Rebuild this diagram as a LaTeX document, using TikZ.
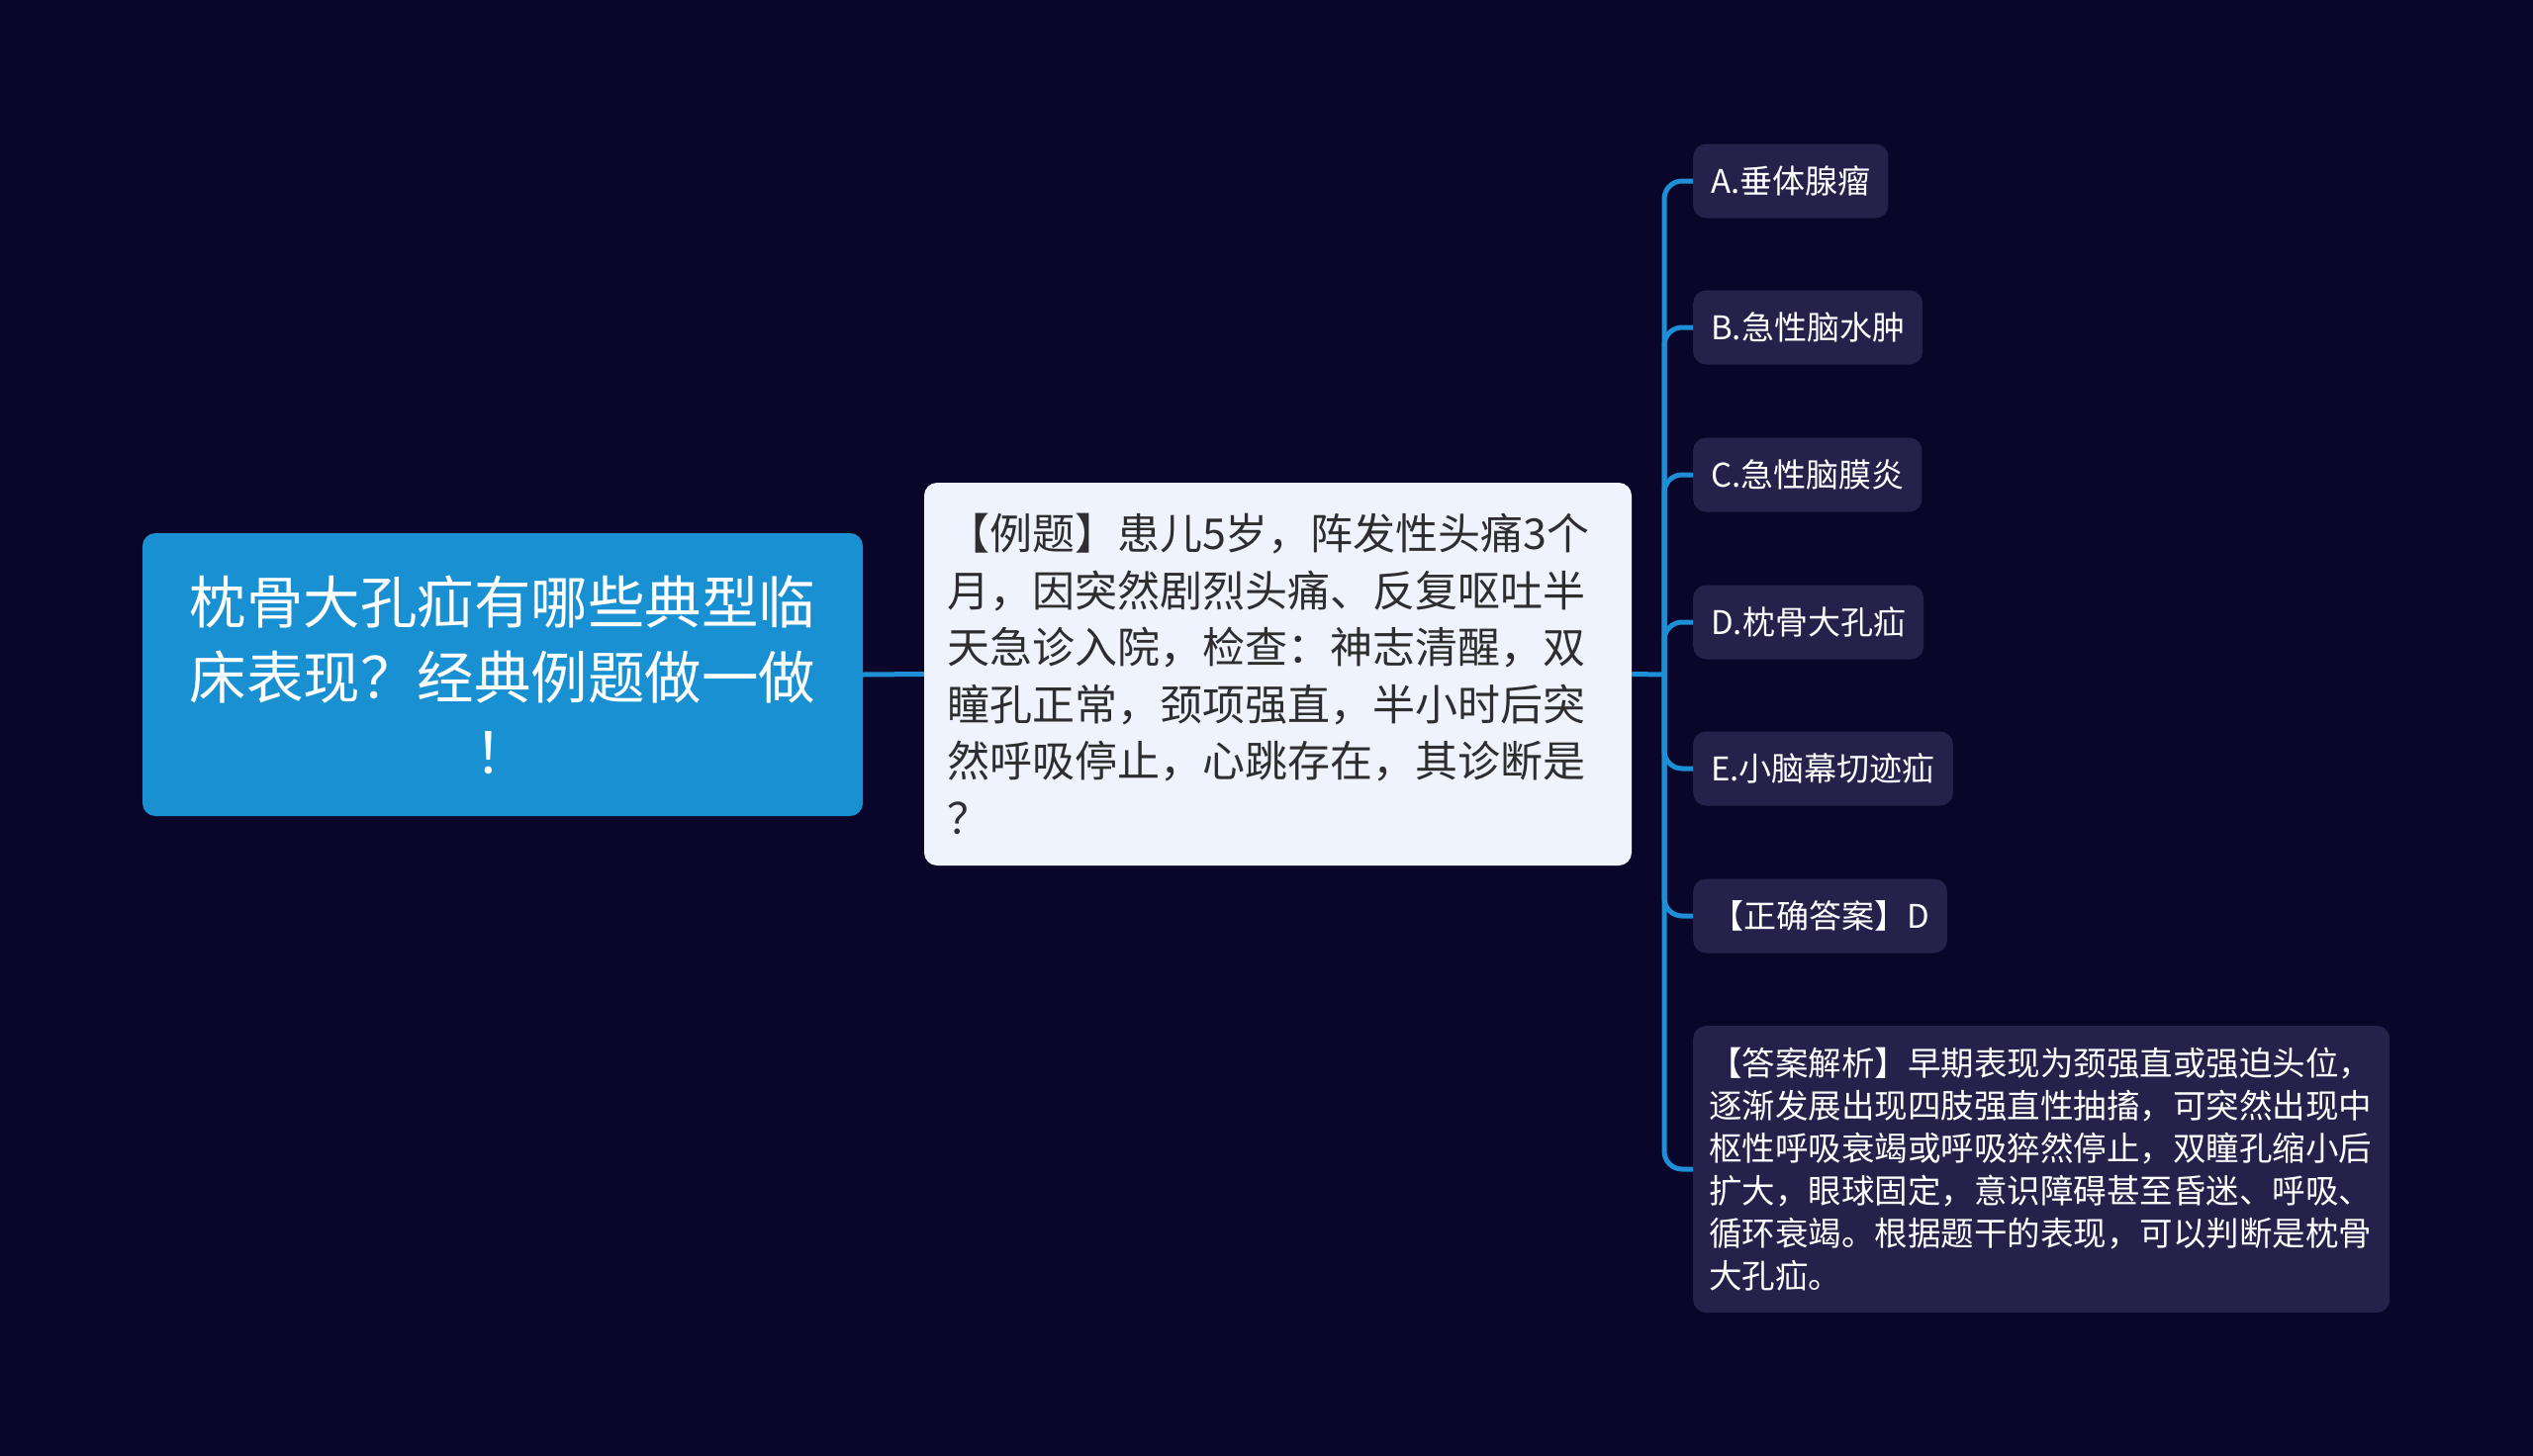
\documentclass[tikz,border=0pt]{standalone}
\usepackage{fontspec}
\setmainfont{Noto Sans CJK SC}
\definecolor{bg}{HTML}{0A0629}
\definecolor{rootc}{HTML}{1890D2}
\definecolor{qfill}{HTML}{EEF3FD}
\definecolor{qtext}{HTML}{2E2E2E}
\definecolor{kid}{HTML}{25214A}
\definecolor{linec}{HTML}{1E8FD6}
\begin{document}
\begin{tikzpicture}[x=1pt,y=-1pt,
  rootbox/.style={fill=rootc, rounded corners=13pt, text=white, align=center,
    minimum width=728pt, minimum height=286pt, inner sep=0pt,
    font=\fontsize{57.5pt}{76pt}\selectfont},
  qbox/.style={fill=qfill, rounded corners=13pt, text=qtext, align=left,
    text width=669pt, minimum height=387pt, inner xsep=23pt, inner ysep=0pt,
    font=\fontsize{43pt}{57.5pt}\selectfont},
  kidbox/.style={fill=kid, rounded corners=13pt, text=white, anchor=west,
    minimum height=75pt, inner xsep=18pt, inner ysep=0pt,
    font=\fontsize{33pt}{43pt}\selectfont},
  bigkid/.style={fill=kid, rounded corners=13pt, text=white, anchor=west, align=left,
    text width=672pt, minimum height=290pt, inner xsep=16pt, inner ysep=0pt,
    font=\fontsize{33.5pt}{43pt}\selectfont},
  conn/.style={draw=linec, line width=5pt},
  elbow/.style={conn, rounded corners=18pt}]
\fill[bg] (0,0) rectangle (2560,1472);
\useasboundingbox (0,0) rectangle (2560,1472);

\node[rootbox] (root) at (508,682) {枕骨大孔疝有哪些典型临\\床表现？经典例题做一做\\！};

\node[qbox] (q) at (1291.5,681.5) {【例题】患儿5岁，阵发性头痛3个\\月，因突然剧烈头痛、反复呕吐半\\天急诊入院，检查：神志清醒，双\\瞳孔正常，颈项强直，半小时后突\\然呼吸停止，心跳存在，其诊断是\\？};

\node[kidbox] (a) at (1711,183) {A.垂体腺瘤};
\node[kidbox] (b) at (1711,331) {B.急性脑水肿};
\node[kidbox] (c) at (1711,480) {C.急性脑膜炎};
\node[kidbox] (d) at (1711,629) {D.枕骨大孔疝};
\node[kidbox] (e) at (1711,777) {E.小脑幕切迹疝};
\node[kidbox] (ans) at (1711,926) {【正确答案】D};
\node[bigkid] (ana) at (1711,1182) {【答案解析】早期表现为颈强直或强迫头位，\\逐渐发展出现四肢强直性抽搐，可突然出现中\\枢性呼吸衰竭或呼吸猝然停止，双瞳孔缩小后\\扩大，眼球固定，意识障碍甚至昏迷、呼吸、\\循环衰竭。根据题干的表现，可以判断是枕骨\\大孔疝。};

\coordinate (trunk) at (1682,682);
\draw[conn] (root.east) -- (q.west);
\draw[conn] (q.east) -- (trunk);
\foreach \k in {a,b,c,d,e,ans,ana}{
  \draw[elbow] (trunk) |- (\k.west);
}
\end{tikzpicture}
\end{document}
